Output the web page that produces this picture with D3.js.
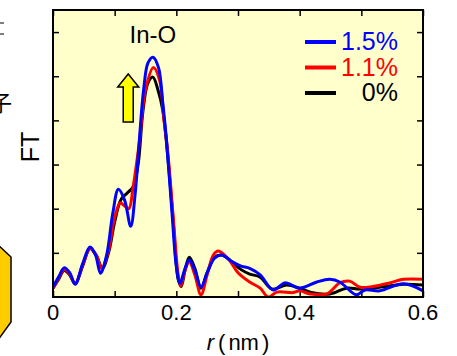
<!DOCTYPE html>
<html>
<head>
<meta charset="utf-8">
<script src="https://cdn.jsdelivr.net/npm/d3@7"></script>
<style>
  html, body { margin: 0; padding: 0; background: #fff; }
  svg { display: block; font-family: Arial, "Liberation Sans", sans-serif; }
</style>
</head>
<body>
<script>
// r (nm) and FT values, one pair of arrays per series
const blueR = [0, 0.009, 0.018, 0.027, 0.036, 0.048, 0.060, 0.069, 0.077, 0.087, 0.097, 0.106, 0.116, 0.126, 0.133, 0.140, 0.147, 0.154, 0.162, 0.171, 0.178, 0.184, 0.193, 0.200, 0.206, 0.213, 0.221, 0.230, 0.240, 0.250, 0.262, 0.274, 0.290, 0.305, 0.319, 0.336, 0.357, 0.376, 0.400, 0.428, 0.449, 0.465, 0.492, 0.506, 0.530, 0.568, 0.600];
const blueV = [0.23, 0.45, 0.66, 0.55, 0.29, 0.75, 1.13, 0.95, 0.54, 0.95, 1.9, 2.44, 2.2, 1.6, 2.3, 3.55, 4.7, 5.3, 5.43, 5.2, 4.4, 3.55, 1.9, 0.7, 0.31, 0.6, 0.84, 0.6, 0.22, 0.55, 0.88, 0.95, 0.8, 0.7, 0.65, 0.5, 0.16, 0.32, 0.2, 0.34, 0.4, 0.34, 0.05, 0.16, 0.14, 0.3, 0.14];

const redR = [0, 0.009, 0.018, 0.027, 0.036, 0.048, 0.060, 0.070, 0.079, 0.090, 0.100, 0.109, 0.117, 0.123, 0.130, 0.140, 0.150, 0.163, 0.173, 0.180, 0.186, 0.195, 0.203, 0.207, 0.214, 0.221, 0.230, 0.240, 0.250, 0.260, 0.268, 0.285, 0.300, 0.319, 0.336, 0.349, 0.363, 0.389, 0.400, 0.417, 0.444, 0.465, 0.481, 0.498, 0.519, 0.546, 0.568, 0.600];
const redV = [0.2, 0.42, 0.62, 0.52, 0.3, 0.72, 1.1, 0.95, 0.65, 1.05, 1.8, 2.13, 2.05, 2.0, 2.5, 3.5, 4.7, 5.2, 4.9, 4.0, 3.3, 1.8, 0.5, 0.25, 0.6, 0.8, 0.5, 0.05, 0.5, 0.95, 1.04, 0.85, 0.55, 0.34, 0.2, 0.0, 0.11, 0.1, 0.14, 0.07, 0.07, 0.32, 0.36, 0.22, 0.24, 0.32, 0.4, 0.4];

const blackR = [0, 0.009, 0.018, 0.027, 0.036, 0.048, 0.060, 0.070, 0.080, 0.090, 0.100, 0.110, 0.120, 0.130, 0.138, 0.146, 0.154, 0.162, 0.170, 0.178, 0.186, 0.195, 0.203, 0.208, 0.214, 0.221, 0.230, 0.240, 0.250, 0.262, 0.274, 0.290, 0.305, 0.319, 0.336, 0.355, 0.379, 0.400, 0.417, 0.449, 0.476, 0.498, 0.535, 0.568, 0.600];
const blackV = [0.2, 0.4, 0.6, 0.5, 0.3, 0.7, 1.1, 0.95, 0.65, 1.0, 1.7, 2.2, 2.35, 2.5, 3.0, 4.23, 4.85, 4.98, 4.7, 4.23, 3.2, 1.7, 0.4, 0.24, 0.6, 0.9, 0.65, 0.2, 0.55, 0.9, 0.95, 0.8, 0.62, 0.52, 0.45, 0.18, 0.27, 0.2, 0.11, 0.07, 0.2, 0.18, 0.23, 0.29, 0.27];

const seriesNames = ["1.5%", "1.1%", "0%"];
const seriesColors = ["#0000ff", "#ff0000", "#000000"];
const xTicks = [0, 0.1, 0.2, 0.3, 0.4, 0.5, 0.6];
const xTickLabels = ["0", "0.2", "0.4", "0.6"];
const yTicks = [1, 2, 3, 4, 5, 6];

const width = 457;
const height = 356;
const plot = { left: 53, right: 423, top: 10, bottom: 297 };

const x = d3.scaleLinear().domain([0, 0.6]).range([plot.left, plot.right]);
const y = d3.scaleLinear().domain([0, 6.5]).range([plot.bottom, plot.top]);

const svg = d3.select("body").append("svg")
    .attr("width", width)
    .attr("height", height);

// bits of the neighbouring figure that got cropped in
svg.append("polygon")
    .attr("points", "-2,245 11,257 11,322 -2,340")
    .attr("fill", "#ffcc00")
    .attr("stroke", "#000")
    .attr("stroke-width", 1.5);
svg.append("path")
    .attr("d", "M0,23H4M0,34H4")
    .attr("stroke", "#000")
    .attr("stroke-width", 1.2);
svg.append("text")
    .attr("x", -10).attr("y", 111)
    .attr("font-size", 22)
    .attr("font-family", "'Noto Sans CJK JP', sans-serif")
    .text("子");

// plot background
svg.append("rect")
    .attr("x", plot.left).attr("y", plot.top)
    .attr("width", plot.right - plot.left)
    .attr("height", plot.bottom - plot.top)
    .attr("fill", "#ffffcc");

svg.append("clipPath").attr("id", "clip")
    .append("rect")
    .attr("x", plot.left).attr("y", plot.top)
    .attr("width", plot.right - plot.left)
    .attr("height", plot.bottom - plot.top);

// AXES (ticks inside on all four sides)
const tick = 6;
svg.append("g").attr("transform", `translate(0, ${plot.bottom})`)
    .call(d3.axisTop(x).tickValues(xTicks).tickSize(tick).tickFormat(""));
svg.append("g").attr("transform", `translate(0, ${plot.top})`)
    .call(d3.axisBottom(x).tickValues(xTicks).tickSize(tick).tickFormat(""));
svg.append("g").attr("transform", `translate(${plot.left}, 0)`)
    .call(d3.axisRight(y).tickValues(yTicks).tickSize(tick).tickFormat(""));
svg.append("g").attr("transform", `translate(${plot.right}, 0)`)
    .call(d3.axisLeft(y).tickValues(yTicks).tickSize(tick).tickFormat(""));
svg.selectAll(".domain").remove();
svg.selectAll(".tick line").attr("stroke", "#000").attr("stroke-width", 1.5);

// LINES
const line = d3.line()
    .x((d) => x(d[0]))
    .y((d) => y(d[1]))
    .curve(d3.curveCatmullRom.alpha(0.5));

const series = [
    { r: blackR, v: blackV, color: seriesColors[2] },
    { r: redR, v: redV, color: seriesColors[1] },
    { r: blueR, v: blueV, color: seriesColors[0] }
];
svg.append("g").attr("clip-path", "url(#clip)")
    .selectAll("path")
    .data(series)
    .enter()
    .append("path")
    .attr("d", (s) => line(s.r.map((r, i) => [r, s.v[i]])))
    .attr("fill", "none")
    .attr("stroke", (s) => s.color)
    .attr("stroke-width", 3)
    .attr("stroke-linejoin", "round");

// frame
svg.append("rect")
    .attr("x", plot.left).attr("y", plot.top)
    .attr("width", plot.right - plot.left)
    .attr("height", plot.bottom - plot.top)
    .attr("fill", "none")
    .attr("stroke", "#000")
    .attr("stroke-width", 2);

// tick labels
svg.selectAll(".xlab")
    .data(xTickLabels)
    .enter()
    .append("text")
    .attr("x", (d) => x(+d))
    .attr("y", 320)
    .attr("text-anchor", "middle")
    .attr("font-size", 22)
    .text((d) => d);

// axis titles
const xt = svg.append("text")
    .attr("x", 238).attr("y", 350)
    .attr("text-anchor", "middle")
    .attr("font-size", 22);
xt.append("tspan").attr("font-style", "italic").text("r");
xt.append("tspan").attr("dx", 4).text("(");
xt.append("tspan").attr("dx", 3).text("nm");
xt.append("tspan").attr("dx", 3).text(")");

svg.append("text")
    .attr("transform", "translate(39, 147) rotate(-90)")
    .attr("text-anchor", "middle")
    .attr("font-size", 25)
    .text("FT");

// peak label and arrow
svg.append("text")
    .attr("x", x(0.162)).attr("y", 43)
    .attr("text-anchor", "middle")
    .attr("font-size", 24)
    .text("In-O");

const ax = x(0.122);
const arrow = [
    [ax, 74], [ax + 10.5, 87], [ax + 5, 87], [ax + 5, 122],
    [ax - 5, 122], [ax - 5, 87], [ax - 10.5, 87]
];
svg.append("polygon")
    .attr("points", arrow.map((p) => p.join(",")).join(" "))
    .attr("fill", "#ffff00")
    .attr("stroke", "#000")
    .attr("stroke-width", 1.5)
    .attr("stroke-linejoin", "miter");

// LEGEND
const legend = svg.append("g")
    .selectAll("g")
    .data(seriesNames)
    .enter()
    .append("g")
    .attr("transform", (_, i) => `translate(0, ${42 + i * 25.5})`);
legend.append("line")
    .attr("x1", 305).attr("x2", 336)
    .attr("stroke", (_, i) => seriesColors[i])
    .attr("stroke-width", 4);
legend.append("text")
    .attr("x", 398).attr("y", 8)
    .attr("text-anchor", "end")
    .attr("font-size", 25)
    .attr("fill", (_, i) => seriesColors[i])
    .text((d) => d);
</script>
</body>
</html>
